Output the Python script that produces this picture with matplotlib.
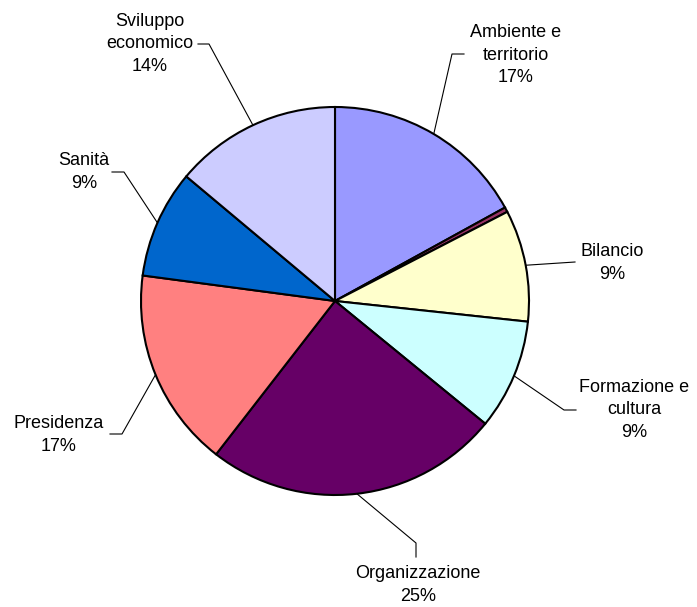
import numpy as np
import matplotlib.pyplot as plt

W, H = 697, 607

categories = ['Ambiente e\nterritorio', '', 'Bilancio', 'Formazione e\ncultura',
              'Organizzazione', 'Presidenza', 'Sanità', 'Sviluppo\neconomico']
shares = [17.0, 0.4, 9.3, 9.2, 24.6, 16.6, 9.0, 13.9]
colors = ['#9999FF', '#993366', '#FFFFCC', '#CCFFFF', '#660066', '#FF8080', '#0066CC', '#CCCCFF']

# layout in pixel coords (y from top): label centre and leader path after the pie edge
label_xy = [(516, 55), None, (612, 263), (634, 410), (418, 585), (59, 435), (84, 172), (150, 44)]
leader_path = [[(452, 54), (464, 54)], None, [(575, 262)], [(564, 410), (576, 410)],
               [(416, 543), (416, 557)], [(122, 434), (110, 434)], [(124, 172), (112, 172)],
               [(209, 44), (198, 44)]]

cx, cy, r = 335, 301, 194

plt.rcParams['font.family'] = ['Liberation Sans', 'DejaVu Sans']
fig = plt.figure(figsize=(W / 100, H / 100), dpi=100)
ax = fig.add_axes([0, 0, 1, 1])

wedges, _ = ax.pie(shares, colors=colors, startangle=90, counterclock=False,
                   center=(cx, H - cy), radius=r,
                   wedgeprops=dict(edgecolor='black', linewidth=1.5))

total = sum(shares)
for w, cat, v, pos, path in zip(wedges, categories, shares, label_xy, leader_path):
    if pos is None:
        continue
    mid = np.deg2rad((w.theta1 + w.theta2) / 2)
    pts = [(cx + r * np.cos(mid), H - cy + r * np.sin(mid))]
    pts += [(x, H - y) for x, y in path]
    xs, ys = zip(*pts)
    ax.plot(xs, ys, color='black', linewidth=0.8)
    ax.text(pos[0], H - pos[1], f'{cat}\n{round(v / total * 100)}%', ha='center', va='center',
            fontsize=13, linespacing=1.45)

ax.set_xlim(0, W)
ax.set_ylim(0, H)
ax.set_aspect('equal')
ax.axis('off')
fig.savefig('out.png', dpi=100)
